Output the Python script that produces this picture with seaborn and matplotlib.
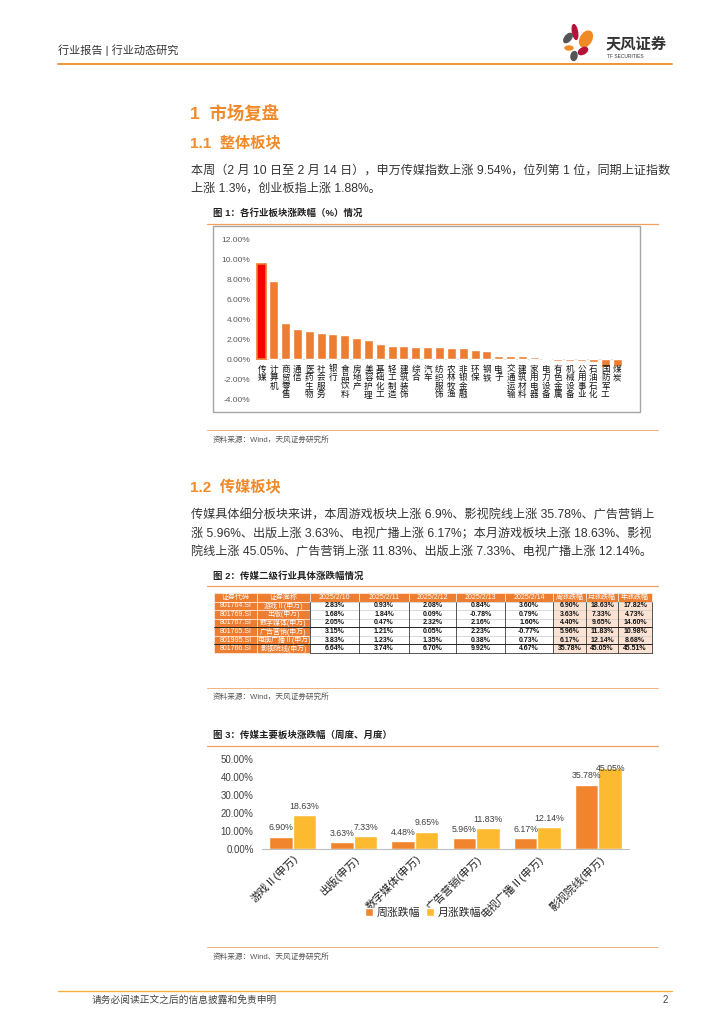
import numpy as np
import pandas as pd
import matplotlib
matplotlib.use('Agg')
import matplotlib.pyplot as plt
import seaborn as sns
from matplotlib.patches import Rectangle, Ellipse

# ---------------- data ----------------
industries = ['传媒', '计算机', '商贸零售', '通信', '医药生物', '社会服务', '银行', '食品饮料',
              '房地产', '美容护理', '基础化工', '轻工制造', '建筑装饰', '综合', '汽车', '纺织服饰',
              '农林牧渔', '非银金融', '环保', '钢铁', '电子', '交通运输', '建筑材料', '家用电器',
              '电力设备', '有色金属', '机械设备', '公用事业', '石油石化', '国防军工', '煤炭']
industry_chg = [9.54, 7.80, 3.57, 3.00, 2.77, 2.60, 2.47, 2.40, 2.07, 1.90, 1.50, 1.30, 1.30,
                1.23, 1.20, 1.20, 1.10, 1.07, 0.90, 0.77, 0.30, 0.30, 0.30, 0.20, 0.10, -0.15,
                -0.20, -0.20, -0.30, -0.77, -0.67]
fig1_yticks = [-4, -2, 0, 2, 4, 6, 8, 10, 12]

codes = ['801764.SI', '801769.SI', '801767.SI', '801765.SI', '801995.SI', '801766.SI']
sectors = ['游戏Ⅱ(申万)', '出版(申万)', '数字媒体(申万)', '广告营销(申万)', '电视广播Ⅱ(申万)', '影视院线(申万)']
dates = ['2025/2/10', '2025/2/11', '2025/2/12', '2025/2/13', '2025/2/14']
chg_0210 = [2.83, 1.68, 2.05, 3.15, 3.83, 6.64]
chg_0211 = [0.93, 1.84, 0.47, 1.21, 1.23, 3.74]
chg_0212 = [2.08, 0.09, 2.32, 0.05, 1.35, 6.70]
chg_0213 = [0.84, -0.78, 2.16, 2.23, 0.38, 9.92]
chg_0214 = [3.60, 0.79, 1.60, -0.77, 0.73, 4.67]
week_chg = [6.90, 3.63, 4.40, 5.96, 6.17, 35.78]
month_chg = [18.63, 7.33, 9.65, 11.83, 12.14, 45.05]
year_chg = [17.82, 4.73, 14.60, 10.98, 8.68, 45.51]
table_header = ['证券代码', '证券简称'] + dates + ['周涨跌幅', '月涨跌幅', '年涨跌幅']

fig3_week = [6.90, 3.63, 4.48, 5.96, 6.17, 35.78]
fig3_month = [18.63, 7.33, 9.65, 11.83, 12.14, 45.05]
fig3_series = ['周涨跌幅', '月涨跌幅']
fig3_yticks = [0, 10, 20, 30, 40, 50]

# ---------------- style ----------------
sns.set_theme(style='white')
plt.rcParams['font.family'] = ['Liberation Sans', 'Noto Sans CJK SC', 'DejaVu Sans']
plt.rcParams['axes.unicode_minus'] = False

ORANGE = '#ED7D31'
HEAD = '#F08A2A'
RED = '#FF0000'
C_W = '#F0852D'
C_M = '#FBBA2F'
TXT = '#333333'

W, H = 724, 1024
fig = plt.figure(figsize=(W / 100, H / 100), dpi=100)
page = fig.add_axes([0, 0, 1, 1])
page.set_xlim(0, W)
page.set_ylim(H, 0)
page.axis('off')


def rect(x0, y0, x1, y1):
    return [x0 / W, 1 - y1 / H, (x1 - x0) / W, (y1 - y0) / H]


# ---------------- header ----------------
page.text(58, 50, '行业报告 | 行业动态研究', fontsize=8, color=TXT, va='center', ha='left')
page.plot([58, 672], [64, 64], color='#F08A24', lw=1.3)
petals = [((575, 32), 5, 15, -10, '#B5123A'),
          ((586, 39), 11, 17, 30, '#F08A24'),
          ((568, 38), 6, 11, 40, '#555555'),
          ((569, 48), 8, 4, 0, '#F08A24'),
          ((583, 51), 10, 6, -30, '#B5123A'),
          ((574, 56), 6, 9, 10, '#555555')]
for c, w, h, a, col in petals:
    page.add_patch(Ellipse(c, w, h, angle=a, color=col))
page.text(606, 44, '天风证券', fontsize=11, fontweight='bold', color='#333333', va='center', ha='left')
page.text(607, 57, 'TF SECURITIES', fontsize=3.5, color='#333333', va='center', ha='left')

# ---------------- section 1 ----------------
page.text(190, 113, '1  市场复盘', fontsize=12.5, fontweight='bold', color=HEAD, va='center')
page.text(190, 143, '1.1  整体板块', fontsize=11, fontweight='bold', color=HEAD, va='center')
page.text(191, 171, '本周（2 月 10 日至 2 月 14 日），申万传媒指数上涨 9.54%，位列第 1 位，同期上证指数',
          fontsize=8.7, color=TXT, va='center')
page.text(191, 189, '上涨 1.3%，创业板指上涨 1.88%。', fontsize=8.7, color=TXT, va='center')

page.text(213, 213, '图 1：各行业板块涨跌幅（%）情况', fontsize=6.8, fontweight='bold', color='#222222', va='center')
page.plot([207, 658], [224, 224], color='#F0A060', lw=0.9)
page.add_patch(Rectangle((213, 226), 427, 186, fill=False, ec='#A6A6A6', lw=1.0))
page.plot([207, 658], [430, 430], color='#F4B183', lw=0.7)
page.text(213, 440, '资料来源：Wind，天风证券研究所', fontsize=5.5, color='#555555', va='center')

# Figure 1 chart
ax1 = fig.add_axes(rect(256, 239, 623, 399))
df1 = pd.DataFrame({'ind': industries, 'chg': industry_chg})
pal1 = [RED if i == 0 else ORANGE for i in range(len(industries))]
sns.barplot(data=df1, x='ind', y='chg', hue='ind', palette=pal1, legend=False,
            width=0.76, saturation=1, ax=ax1)
ax1.patches[0].set_edgecolor(ORANGE)
ax1.patches[0].set_linewidth(1.2)
ax1.set_xlim(-0.5, len(industries) - 0.5)
ax1.set_ylim(fig1_yticks[0], fig1_yticks[-1])
ax1.set_yticks(fig1_yticks)
ax1.set_yticklabels([f'{v:.2f}%' for v in fig1_yticks])
ax1.set_xticks([])
ax1.set_xlabel('')
ax1.set_ylabel('')
ax1.patch.set_alpha(0)
for s in ax1.spines.values():
    s.set_visible(False)
ax1.tick_params(axis='y', length=0, pad=4, labelsize=6, labelcolor='#595959')
ax1.axhline(0, color='#D9D9D9', lw=0.6, zorder=0)
for i, name in enumerate(industries):
    ax1.annotate('\n'.join(name), xy=(i, 0), xytext=(0, -4), textcoords='offset points',
                 ha='center', va='top', fontsize=6.2, linespacing=0.93, color='#111111',
                 family=['Noto Sans CJK SC'])

# ---------------- section 1.2 ----------------
page.text(190, 488, '1.2  传媒板块', fontsize=11, fontweight='bold', color=HEAD, va='center')
p2 = ['传媒具体细分板块来讲，本周游戏板块上涨 6.9%、影视院线上涨 35.78%、广告营销上',
      '涨 5.96%、出版上涨 3.63%、电视广播上涨 6.17%；本月游戏板块上涨 18.63%、影视',
      '院线上涨 45.05%、广告营销上涨 11.83%、出版上涨 7.33%、电视广播上涨 12.14%。']
for k, line in enumerate(p2):
    page.text(191, 516 + 18 * k, line, fontsize=8.7, color=TXT, va='center')

page.text(213, 576, '图 2：传媒二级行业具体涨跌幅情况', fontsize=6.8, fontweight='bold', color='#222222', va='center')
page.plot([207, 658], [586, 586], color='#F0A060', lw=0.9)

# table
col_x = [214, 257, 310, 359, 409, 456, 505, 553, 586, 618, 652]
t_top, t_bot = 593, 653
n_rows = len(codes) + 1
rh = (t_bot - t_top) / n_rows
cols = [codes, sectors, chg_0210, chg_0211, chg_0212, chg_0213, chg_0214, week_chg, month_chg, year_chg]
for r in range(n_rows):
    y0 = t_top + r * rh
    for c in range(len(cols)):
        x0, x1 = col_x[c], col_x[c + 1]
        if r == 0 or c < 2:
            fc, tc = ORANGE, 'white'
        elif c >= 7:
            fc, tc = '#FBE2D2', '#111111'
        else:
            fc, tc = 'white', '#111111'
        page.add_patch(Rectangle((x0, y0), x1 - x0, rh, fc=fc,
                                 ec='white' if (r == 0 or c < 2) else '#C8C8C8', lw=0.4))
        if r == 0:
            s = table_header[c]
        else:
            v = cols[c][r - 1]
            s = v if isinstance(v, str) else f'{v:.2f}%'
        page.text((x0 + x1) / 2, y0 + rh / 2, s, fontsize=5.0, color=tc, ha='center', va='center',
                  fontweight='bold' if (r > 0 and c >= 2) else 'normal')
for c in range(2, len(col_x)):
    page.plot([col_x[c], col_x[c]], [t_top + rh, t_bot], color='#222222', lw=0.5)
for r in [4, 6]:
    page.plot([col_x[0], col_x[-1]], [t_top + r * rh, t_top + r * rh], color='#222222', lw=0.7)
page.plot([col_x[2], col_x[-1]], [t_bot, t_bot], color='#222222', lw=0.5)

page.plot([207, 658], [688, 688], color='#F4B183', lw=0.7)
page.text(213, 697, '资料来源：Wind，天风证券研究所', fontsize=5.5, color='#555555', va='center')

# ---------------- figure 3 ----------------
page.text(213, 735, '图 3：传媒主要板块涨跌幅（周度、月度）', fontsize=6.8, fontweight='bold', color='#222222', va='center')
page.plot([207, 658], [746, 746], color='#F0A060', lw=0.9)

ax3 = fig.add_axes(rect(262, 759, 629, 849))
df3 = pd.DataFrame({'sector': sectors * 2,
                    'type': [fig3_series[0]] * len(sectors) + [fig3_series[1]] * len(sectors),
                    'val': fig3_week + fig3_month})
sns.barplot(data=df3, x='sector', y='val', hue='type', palette=[C_W, C_M], width=0.77,
            saturation=1, ax=ax3)
ax3.set_ylim(fig3_yticks[0], fig3_yticks[-1])
ax3.set_xlim(-0.5, len(sectors) - 0.5)
ax3.set_yticks(fig3_yticks)
ax3.set_yticklabels([f'{v:.2f}%' for v in fig3_yticks])
ax3.set_xlabel('')
ax3.set_ylabel('')
ax3.patch.set_alpha(0)
for k in ['top', 'right', 'left']:
    ax3.spines[k].set_visible(False)
ax3.spines['bottom'].set_color('#BFBFBF')
ax3.spines['bottom'].set_linewidth(0.8)
ax3.tick_params(axis='y', length=0, pad=6, labelsize=7, labelcolor='#404040')
ax3.tick_params(axis='x', length=0, pad=3)
plt.setp(ax3.get_xticklabels(), rotation=45, ha='right', rotation_mode='anchor',
         fontsize=7.8, color='#222222')
for cont in ax3.containers:
    for bar in cont:
        v = bar.get_height()
        xc = bar.get_x() + bar.get_width() / 2
        ax3.annotate(f'{v:.2f}%', xy=(xc, min(v, 40)), xytext=(0, 3), textcoords='offset points',
                     ha='center', va='bottom', fontsize=6.3, color='#404040')
ax3.legend(loc='center', bbox_to_anchor=(423 / W, 1 - 913 / H), bbox_transform=fig.transFigure,
           ncol=2, frameon=False, fontsize=7.8, handlelength=0.75, handleheight=0.75,
           handletextpad=0.3, columnspacing=0.6)

page.plot([207, 658], [947, 947], color='#F4B183', lw=0.7)
page.text(213, 957, '资料来源：Wind、天风证券研究所', fontsize=5.5, color='#555555', va='center')

# ---------------- footer ----------------
page.plot([58, 672], [991, 991], color='#F5B041', lw=1.0)
page.text(92, 1000, '请务必阅读正文之后的信息披露和免责申明', fontsize=7, color='#444444', va='center')
page.text(668, 1000, '2', fontsize=7, color='#444444', va='center', ha='right')

fig.savefig('out.png', dpi=100)
